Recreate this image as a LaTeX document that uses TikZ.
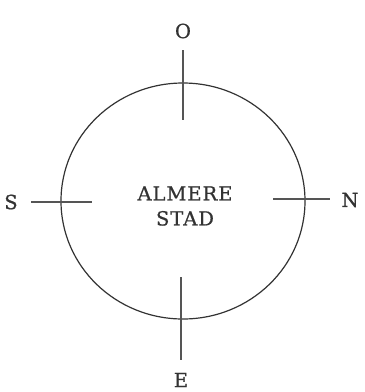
\documentclass[tikz,border=0pt]{standalone}
\usepackage{fontspec}
\setmainfont{DejaVu Serif}[LetterSpace=5,FakeBold=0.7]
\definecolor{inkc}{HTML}{333333}
\definecolor{linec}{HTML}{555555}
\begin{document}
\begin{tikzpicture}[x=1pt,y=-1pt,
  lbl/.style={text=inkc,font=\fontsize{19.5}{25}\selectfont,inner sep=0pt},
  tick/.style={draw=linec,line width=1.3pt}]
\useasboundingbox (0,0) rectangle (365,392);
\fill[white] (0,0) rectangle (365,392);
\draw[line width=1.2pt,draw=inkc] (183,201) ellipse [x radius=122, y radius=118];
\node[lbl,align=center] (city) at (185,206) {ALMERE\\STAD};
\coordinate (oa) at (183,50); \coordinate (ob) at (183,120);
\coordinate (ea) at (181,277); \coordinate (eb) at (181,360);
\coordinate (sa) at (31,202); \coordinate (sb) at (92,202);
\coordinate (na) at (273,199); \coordinate (nb) at (330,199);
\draw[tick] (oa) -- (ob);
\draw[tick] (ea) -- (eb);
\draw[tick] (sa) -- (sb);
\draw[tick] (na) -- (nb);
\node[lbl] (o) at (183,31) {O};
\node[lbl] (e) at (181,380) {E};
\node[lbl] (s) at (11,202) {S};
\node[lbl] (n) at (350,200) {N};
\end{tikzpicture}
\end{document}
